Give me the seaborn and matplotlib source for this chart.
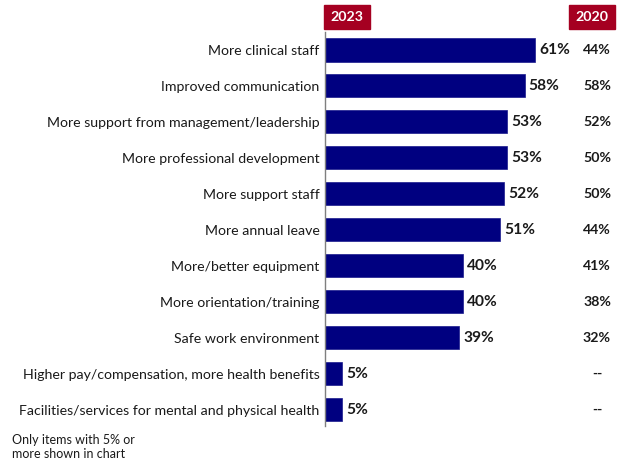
import matplotlib
matplotlib.use("Agg")
import matplotlib.pyplot as plt
import seaborn as sns
import pandas as pd

categories = [
    "More clinical staff",
    "Improved communication",
    "More support from management/leadership",
    "More professional development",
    "More support staff",
    "More annual leave",
    "More/better equipment",
    "More orientation/training",
    "Safe work environment",
    "Higher pay/compensation, more health benefits",
    "Facilities/services for mental and physical health",
]
values_2023 = [61, 58, 53, 53, 52, 51, 40, 40, 39, 5, 5]
labels_2020 = ["44%", "58%", "52%", "50%", "50%", "44%", "41%", "38%", "32%", "--", "--"]

sns.set_theme(style="white")
plt.rcParams["font.family"] = ["Lato", "DejaVu Sans"]

W, H = 624, 468
fig = plt.figure(figsize=(W / 100, H / 100), dpi=100)
left, right, top, bottom = 325, 625, 32, 426
ax = fig.add_axes([left / W, 1 - bottom / H, (right - left) / W, (bottom - top) / H])

df = pd.DataFrame({"cat": categories, "val": values_2023})
sns.barplot(data=df, y="cat", x="val", orient="h", color="#000080",
            width=0.64, ax=ax, saturation=1, edgecolor="#1a1a8c", linewidth=0.5)

ax.set_xlim(0, 87.2)
ax.set_ylim(10.45, -0.5)
ax.set_xlabel("")
ax.set_ylabel("")
ax.set_xticks([])
for s in ["top", "right", "bottom"]:
    ax.spines[s].set_visible(False)
ax.spines["left"].set_color("#7f7f7f")
ax.spines["left"].set_linewidth(1.0)
ax.tick_params(axis="y", length=0, pad=4, labelsize=10.2, labelcolor="#1a1a1a")

for i, v in enumerate(values_2023):
    ax.text(v + 1.2, i, f"{v}%", va="center", ha="left", fontsize=11.2,
            fontweight="bold", color="#1a1a1a")
    fig.text(597 / W, 1 - (50 + 36 * i) / H, labels_2020[i], ha="center", va="center",
             fontsize=10.2, fontweight="bold", color="#1a1a1a")

box = dict(boxstyle="square,pad=0.45", facecolor="#A50021", edgecolor="#A50021")
fig.text(347 / W, 1 - 17 / H, "2023", ha="center", va="center", fontsize=10.2,
         fontweight="bold", color="white", bbox=box)
fig.text(592 / W, 1 - 17 / H, "2020", ha="center", va="center", fontsize=10.2,
         fontweight="bold", color="white", bbox=box)

fig.text(12 / W, 1 - 447 / H, "Only items with 5% or\nmore shown in chart", ha="left",
         va="center", fontsize=9, color="#1a1a1a", linespacing=1.25)

fig.savefig("out.png", dpi=100)
